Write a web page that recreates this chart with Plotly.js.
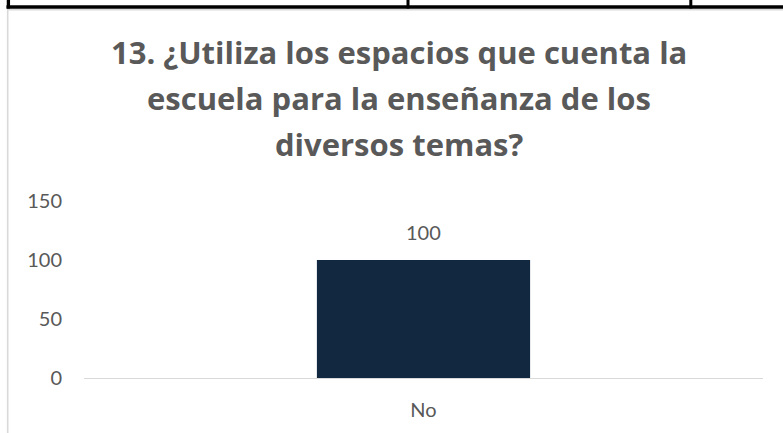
<!DOCTYPE html>
<html>
<head>
<meta charset="utf-8">
<script src="https://cdn.plot.ly/plotly-3.0.1.min.js"></script>
<style>
  html, body { margin: 0; padding: 0; background: #ffffff; }
  #chart { width: 783px; height: 433px; }
</style>
</head>
<body>
<div id="chart"></div>
<script>
// ---- data ----
const categories = ["No"];
const values = [100];
const yTickVals = [0, 50, 100, 150];
const yTickText = ["0", "50", "100", "150"];
const titleLines = [
  "13. ¿Utiliza los espacios que cuenta la",
  "escuela para la enseñanza de los",
  "diversos temas?"
];

// ---- layout geometry (pixels) ----
const W = 783, H = 433;
const M = { l: 84, r: 20, t: 201, b: 55 };
const plotW = W - M.l - M.r;
const plotH = H - M.t - M.b;
const px = p => (p - M.l) / plotW;          // page x -> paper x
const py = p => (H - M.b - p) / plotH;      // page y -> paper y

const FONT = "Lato, 'Open Sans', sans-serif";
const TFONT = "'Open Sans', Lato, sans-serif";
const GREY = "#595959";

const titleCentersY = [52, 98, 144];
const annotations = titleLines.map((t, i) => ({
  text: "<b>" + t + "</b>",
  xref: "paper", yref: "paper",
  x: px(399), y: py(titleCentersY[i]),
  xanchor: "center", yanchor: "middle",
  showarrow: false,
  font: { family: TFONT, size: 31, color: GREY }
}));

categories.forEach((c, i) => {
  annotations.push({
    text: String(values[i]),
    x: c, y: values[i], xref: "x", yref: "y",
    xanchor: "center", yanchor: "bottom",
    yshift: 14, showarrow: false,
    font: { family: FONT, size: 20, color: GREY }
  });
});

const shapes = [
  // outer chart border (light grey), left and top edges
  { type: "line", xref: "paper", yref: "paper", x0: px(7.7), x1: px(7.7), y0: py(9.8), y1: py(440),
    line: { color: "#d9d9d9", width: 1.6 } },
  { type: "line", xref: "paper", yref: "paper", x0: px(7), x1: px(790), y0: py(9.8), y1: py(9.8),
    line: { color: "#d9d9d9", width: 1.4 } },
  // table border above the chart (black)
  { type: "line", xref: "paper", yref: "paper", x0: px(6.5), x1: px(783), y0: py(7), y1: py(7),
    line: { color: "#000000", width: 3.3 } },
  { type: "line", xref: "paper", yref: "paper", x0: px(8.4), x1: px(8.4), y0: py(-2), y1: py(8.5),
    line: { color: "#000000", width: 3.3 } },
  { type: "line", xref: "paper", yref: "paper", x0: px(408), x1: px(408), y0: py(-2), y1: py(8.5),
    line: { color: "#000000", width: 3 } },
  { type: "line", xref: "paper", yref: "paper", x0: px(690.8), x1: px(690.8), y0: py(-2), y1: py(8.5),
    line: { color: "#000000", width: 3 } }
];

const data = [{
  type: "bar",
  x: categories,
  y: values,
  marker: { color: "#112840" },
  hoverinfo: "x+y"
}];

const layout = {
  width: W, height: H,
  margin: M,
  paper_bgcolor: "#ffffff",
  plot_bgcolor: "#ffffff",
  showlegend: false,
  bargap: 0.686,
  font: { family: FONT, size: 20, color: GREY },
  xaxis: {
    type: "category",
    showline: true, linecolor: "#d9d9d9", linewidth: 1.3,
    showgrid: false, zeroline: false,
    ticks: "", ticklabelstandoff: 14,
    tickfont: { family: FONT, size: 20, color: GREY }
  },
  yaxis: {
    range: [0, 150],
    tickvals: yTickVals, ticktext: yTickText,
    showgrid: false, zeroline: false, showline: false,
    ticks: "", ticklabelstandoff: 21,
    tickfont: { family: FONT, size: 20, color: GREY }
  },
  annotations: annotations,
  shapes: shapes
};

Plotly.newPlot("chart", data, layout, { displayModeBar: false, staticPlot: true });
</script>
</body>
</html>
